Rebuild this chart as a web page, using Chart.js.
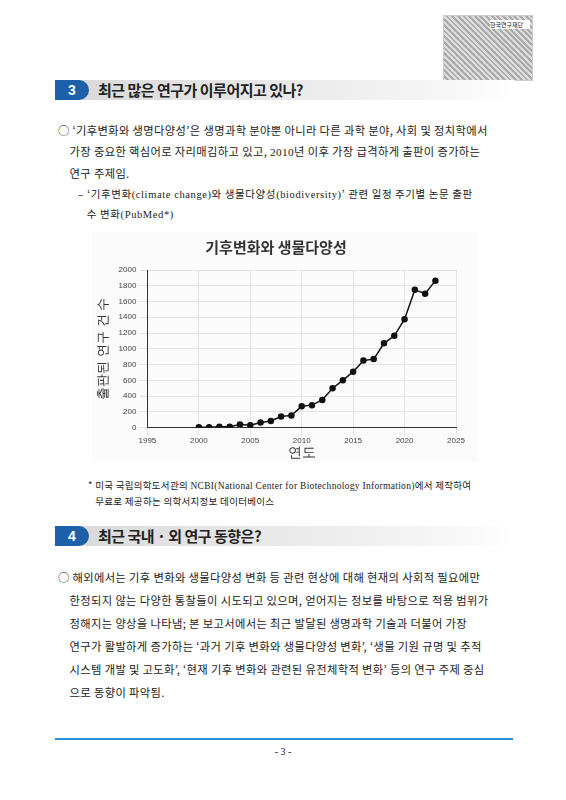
<!DOCTYPE html>
<html><head><meta charset="utf-8">
<script src="https://cdn.jsdelivr.net/npm/chart.js@4"></script>
<style>
body{margin:0;width:566px;height:800px;background:#fff;font-family:"Noto Sans CJK KR","Noto Sans",sans-serif;color:#222;position:relative;overflow:hidden}
.abs{position:absolute}
.bar{left:55px;width:460px;height:20px;background:linear-gradient(90deg,#d8d8d8,#f4f4f4 80%,#fff)}
.num{left:55px;width:34px;height:20px;background:#1d5fa8;color:#fff;border-radius:0 10px 10px 0;text-align:center;font:bold 14px/20px "Liberation Sans",sans-serif}
.ttl{font-weight:bold;font-size:15px;line-height:20px;left:98px;letter-spacing:-0.5px}
.t{font-size:11.3px;line-height:21px;letter-spacing:0.35px;white-space:nowrap}
</style></head><body>
<div class="abs" style="left:443px;top:15px;width:88px;height:64px;border:1px solid #ccc;background:repeating-linear-gradient(45deg,#ddd 0 2px,#aaa 2px 4px)"></div>
<div class="abs" style="left:490px;top:20px;width:40px;font-size:6px;background:#fff">한국연구재단</div>
<div class="abs bar" style="top:80px"></div><div class="abs num" style="top:80px">3</div>
<div class="abs ttl" style="top:80px">최근 많은 연구가 이루어지고 있나?</div>
<div class="abs t" style="left:58px;top:120px">○ ‘기후변화와 생명다양성’은 생명과학 분야뿐 아니라 다른 과학 분야, 사회 및 정치학에서<br>&nbsp;&nbsp;&nbsp;&nbsp;가장 중요한 핵심어로 자리매김하고 있고, <span style="font-family:'Liberation Serif'">2010</span>년 이후 가장 급격하게 출판이 증가하는<br>&nbsp;&nbsp;&nbsp;&nbsp;연구 주제임.</div>
<div class="abs t" style="left:78px;top:184px;line-height:19px;font-size:10.5px;letter-spacing:0.6px">– ‘기후변화<span style="font-family:'Liberation Serif'">(climate change)</span>와 생물다양성<span style="font-family:'Liberation Serif'">(biodiversity)</span>’ 관련 일정 주기별 논문 출판<br>&nbsp;&nbsp;&nbsp;수 변화<span style="font-family:'Liberation Serif'">(PubMed*)</span></div>
<div class="abs" style="left:92px;top:232px;width:386px;height:230px;background:#fbfbfb"><canvas id="c"></canvas></div>
<div class="abs" style="left:88px;top:478px;font-size:9.5px;line-height:15px;white-space:nowrap;letter-spacing:0.3px">* 미국 국립의학도서관의 <span style="font-family:'Liberation Serif'">NCBI(National Center for Biotechnology Information)</span>에서 제작하여<br>&nbsp;&nbsp;&nbsp;무료로 제공하는 의학서지정보 데이터베이스</div>
<div class="abs bar" style="top:526px"></div><div class="abs num" style="top:526px">4</div>
<div class="abs ttl" style="top:526px">최근 국내 · 외 연구 동향은?</div>
<div class="abs t" style="left:58px;top:566px;line-height:23px">○ 해외에서는 기후 변화와 생물다양성 변화 등 관련 현상에 대해 현재의 사회적 필요에만<br>&nbsp;&nbsp;&nbsp;&nbsp;한정되지 않는 다양한 통찰들이 시도되고 있으며, 얻어지는 정보를 바탕으로 적용 범위가<br>&nbsp;&nbsp;&nbsp;&nbsp;정해지는 양상을 나타냄; 본 보고서에서는 최근 발달된 생명과학 기술과 더불어 가장<br>&nbsp;&nbsp;&nbsp;&nbsp;연구가 활발하게 증가하는 ‘과거 기후 변화와 생물다양성 변화’, ‘생물 기원 규명 및 추적<br>&nbsp;&nbsp;&nbsp;&nbsp;시스템 개발 및 고도화’, ‘현재 기후 변화와 관련된 유전체학적 변화’ 등의 연구 주제 중심<br>&nbsp;&nbsp;&nbsp;&nbsp;으로 동향이 파악됨.</div>
<div class="abs" style="left:55px;top:738px;width:458px;height:2px;background:#2a8fd0"></div>
<div class="abs" style="left:0;width:566px;top:746px;text-align:center;font-size:10px;font-family:'Liberation Serif'">- 3 -</div>
<script>
const years=[2000,2001,2002,2003,2004,2005,2006,2007,2008,2009,2010,2011,2012,2013,2014,2015,2016,2017,2018,2019,2020,2021,2022,2023];
const counts=[5,5,12,10,40,30,65,85,140,155,270,285,350,500,600,710,850,870,1070,1165,1375,1750,1700,1865];
const chartTitle='기후변화와 생물다양성';
const xTitle='연도', yTitle='출판된 연구 건 수';
new Chart(document.getElementById('c'),{type:'line',
data:{datasets:[{data:years.map((y,i)=>({x:y,y:counts[i]})),borderColor:'#111',backgroundColor:'#111',borderWidth:1.5,pointRadius:2.5,tension:0}]},
options:{responsive:true,maintainAspectRatio:false,animation:false,
layout:{padding:{right:22,bottom:0,left:4}},
plugins:{legend:{display:false},title:{display:true,text:chartTitle,color:'#333',font:{size:15,family:'Noto Sans CJK KR'},padding:{top:6,bottom:14}}},
scales:{x:{type:'linear',min:1995,max:2025,ticks:{stepSize:5,color:'#444',font:{size:8},callback:v=>String(v),padding:0},grid:{color:'#e4e4e4'},border:{color:'#333'},title:{display:true,text:xTitle,color:'#333',font:{size:14},padding:{top:0,bottom:0}}},
y:{min:0,max:2000,ticks:{stepSize:200,color:'#444',font:{size:8},callback:v=>String(v)},grid:{color:'#e4e4e4'},border:{color:'#333'},title:{display:true,text:yTitle,color:'#333',font:{size:13},padding:{top:0,bottom:4}}}}}});
</script></body></html>
